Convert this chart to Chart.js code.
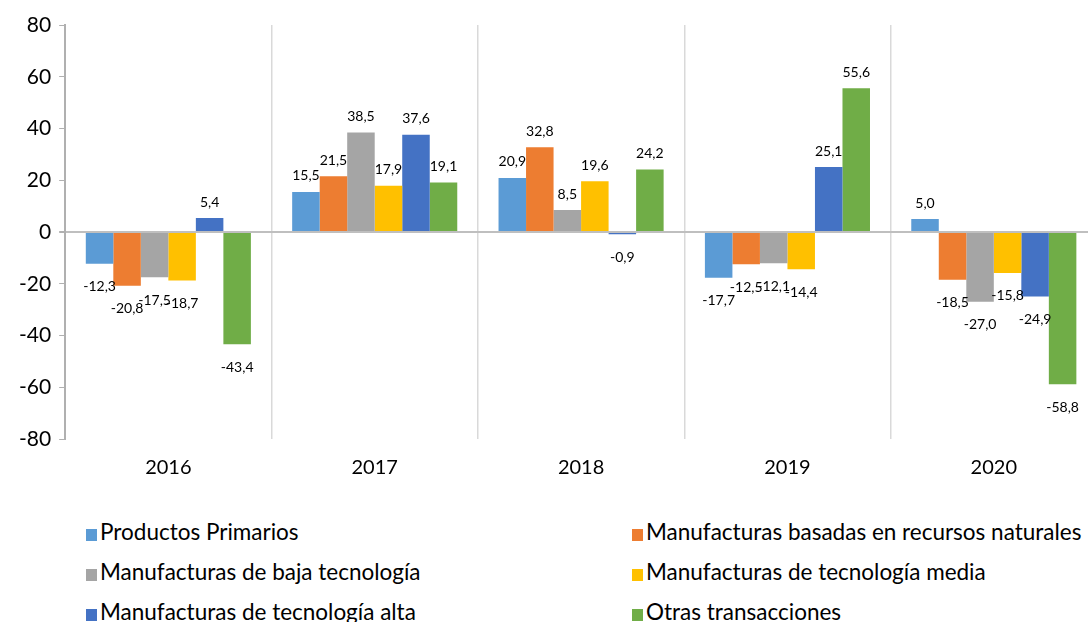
<!DOCTYPE html>
<html>
<head>
<meta charset="utf-8">
<script src="https://cdn.jsdelivr.net/npm/chart.js@4/dist/chart.umd.min.js"></script>
<style>
  html, body { margin: 0; padding: 0; background: #fff; overflow: hidden; }
  #wrap { position: relative; width: 1088px; height: 622px; overflow: hidden; }
  #chart_Export { position: absolute; left: 0; top: 0; }
  #legend { position: absolute; left: 0; top: 512px; width: 1100px; font-family: Lato, sans-serif; font-size: 22.5px; color: #000; }
  .item { position: absolute; height: 40px; line-height: 40px; white-space: nowrap; }
  .box { display: inline-block; width: 11px; height: 12px; margin-right: 3px; vertical-align: -1px; }
</style>
</head>
<body>
<div id="wrap">
  <canvas id="chart_Export" width="1100" height="497"></canvas>
  <div id="legend"></div>
</div>
<script>
  var years = ["2016", "2017", "2018", "2019", "2020"];
  var seriesNames = [
    "Productos Primarios",
    "Manufacturas basadas en recursos naturales",
    "Manufacturas de baja tecnología",
    "Manufacturas de tecnología media",
    "Manufacturas de tecnología alta",
    "Otras transacciones"
  ];
  var colors = ["#5B9BD5", "#ED7D31", "#A5A5A5", "#FFC000", "#4472C4", "#70AD47"];

  var primarios = [-12.3, 15.5, 20.9, -17.7, 5.0];
  var recursosNaturales = [-20.8, 21.5, 32.8, -12.5, -18.5];
  var bajaTecnologia = [-17.5, 38.5, 8.5, -12.1, -27.0];
  var tecnologiaMedia = [-18.7, 17.9, 19.6, -14.4, -15.8];
  var tecnologiaAlta = [5.4, 37.6, -0.9, 25.1, -24.9];
  var otras = [-43.4, 19.1, 24.2, 55.6, -58.8];

  var yTicks = [-80, -60, -40, -20, 0, 20, 40, 60, 80];

  var allSeries = [primarios, recursosNaturales, bajaTecnologia, tecnologiaMedia, tecnologiaAlta, otras];

  function formatValue(v) {
    return v.toFixed(1).replace(".", ",");
  }

  // Etiquetas de datos encima / debajo de cada barra
  var barLabels = {
    id: "barLabels",
    afterDatasetsDraw: function (chart) {
      var ctx = chart.ctx;
      ctx.save();
      ctx.font = "14px Lato, sans-serif";
      ctx.fillStyle = "#000";
      ctx.textAlign = "center";
      chart.data.datasets.forEach(function (ds, i) {
        var meta = chart.getDatasetMeta(i);
        meta.data.forEach(function (bar, j) {
          var v = ds.data[j];
          if (v >= 0) {
            ctx.textBaseline = "bottom";
            ctx.fillText(formatValue(v), bar.x, bar.y - 9);
          } else {
            ctx.textBaseline = "top";
            ctx.fillText(formatValue(v), bar.x, bar.y + 16);
          }
        });
      });
      ctx.restore();
    }
  };

  var datasets = [];
  for (var i = 0; i < seriesNames.length; i++) {
    datasets.push({
      label: seriesNames[i],
      data: allSeries[i],
      backgroundColor: colors[i],
      categoryPercentage: 0.8,
      barPercentage: 1.0
    });
  }

  new Chart(document.getElementById("chart_Export"), {
    type: "bar",
    data: {
      labels: years,
      datasets: datasets
    },
    options: {
      responsive: false,
      animation: false,
      devicePixelRatio: 1,
      layout: { padding: { top: 25, right: 3, left: 11, bottom: 0 } },
      plugins: {
        legend: { display: false },
        tooltip: { enabled: false }
      },
      scales: {
        x: {
          grid: {
            offset: true,
            color: "#d9d9d9",
            lineWidth: 1.5,
            drawTicks: false
          },
          border: { display: false },
          ticks: {
            color: "#000",
            font: { family: "Lato, sans-serif", size: 20 },
            padding: 17
          }
        },
        y: {
          min: -80,
          max: 80,
          afterBuildTicks: function (axis) {
            axis.ticks = yTicks.map(function (v) { return { value: v }; });
          },
          grid: {
            color: function (c) { return c.tick && c.tick.value === 0 ? "#bfbfbf" : "rgba(0,0,0,0)"; },
            lineWidth: function (c) { return c.tick && c.tick.value === 0 ? 2 : 1; },
            tickColor: "#b0b0b0",
            tickLength: 6,
            drawOnChartArea: true
          },
          border: { display: true, color: "#b0b0b0", width: 2 },
          ticks: {
            color: "#000",
            font: { family: "Lato, sans-serif", size: 21 },
            padding: 8
          }
        }
      }
    },
    plugins: [barLabels]
  });

  // Leyenda en dos columnas
  var legend = document.getElementById("legend");
  var colX = [86, 632];
  for (var k = 0; k < seriesNames.length; k++) {
    var item = document.createElement("div");
    item.className = "item";
    item.style.left = colX[k % 2] + "px";
    item.style.top = (Math.floor(k / 2) * 40) + "px";
    item.innerHTML = '<span class="box" style="background:' + colors[k] + '"></span>' + seriesNames[k];
    legend.appendChild(item);
  }
</script>
</body>
</html>
